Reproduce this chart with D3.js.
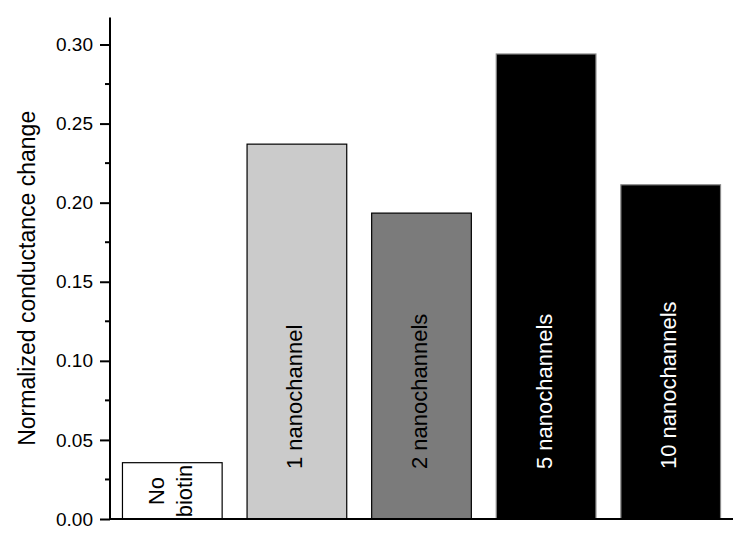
<!DOCTYPE html>
<html>
<head>
<meta charset="utf-8">
<script src="https://cdn.jsdelivr.net/npm/d3@7"></script>
<style>
  body { margin: 0; background: #fff; }
  svg { font-family: "Liberation Sans", Arial, sans-serif; }
</style>
</head>
<body>
<svg width="750" height="537"></svg>
<script>
const svg = d3.select('svg');

// data
const categories = ['No biotin', '1 nanochannel', '2 nanochannels', '5 nanochannels', '10 nanochannels'];
const values = [0.0356, 0.237, 0.1934, 0.294, 0.2113];
const fills = ['#ffffff', '#cbcbcb', '#7b7b7b', '#000000', '#000000'];
const textColors = ['#000', '#000', '#000', '#fff', '#fff'];
const majorTicks = [0, 0.05, 0.10, 0.15, 0.20, 0.25, 0.30];
const minorTicks = [0.025, 0.075, 0.125, 0.175, 0.225, 0.275];

const left = 110, right = 733, bottom = 519;

const xScale = d3.scaleBand()
  .domain(categories)
  .range([left, right])
  .paddingInner(0.2)
  .paddingOuter(0.1);

const yScale = d3.scaleLinear()
  .domain([0, 0.30])
  .range([bottom, 44.5]);

const yTop = yScale(0.317);

// bars
const bars = svg.append('g').attr('class', 'bars');
bars.selectAll('rect').data(values)
  .enter().append('rect')
    .attr('x', (d, i) => xScale(categories[i]))
    .attr('y', d => yScale(d))
    .attr('width', xScale.bandwidth())
    .attr('height', d => bottom - yScale(d))
    .attr('fill', (d, i) => fills[i])
    .attr('stroke', (d, i) => i >= 3 ? '#888' : '#000')
    .attr('stroke-width', 1.2);

// bar labels, rotated
const labels = svg.append('g').attr('class', 'bar-labels')
  .attr('font-size', 22);
categories.forEach((c, i) => {
  const cx = xScale(c) + xScale.bandwidth() / 2;
  if (i === 0) {
    const t = labels.append('text')
      .attr('transform', `translate(${cx},491) rotate(-90)`)
      .attr('text-anchor', 'middle')
      .attr('fill', textColors[i]);
    t.append('tspan').attr('x', 0).attr('dy', '-0.4em').text('No');
    t.append('tspan').attr('x', 0).attr('dy', '1.3em').text('biotin');
  } else {
    labels.append('text')
      .attr('transform', `translate(${cx},469) rotate(-90)`)
      .attr('dy', '0.25em')
      .attr('fill', textColors[i])
      .text(c);
  }
});

// y axis
const yAxis = d3.axisLeft(yScale)
  .tickValues(majorTicks)
  .tickFormat(d3.format('.2f'))
  .tickSize(10)
  .tickPadding(7);

const yAxisG = svg.append('g')
  .attr('class', 'yAxis')
  .attr('transform', `translate(${left},0)`)
  .call(yAxis);
yAxisG.select('.domain').remove();
yAxisG.selectAll('.tick line').attr('stroke-width', 2);
yAxisG.selectAll('.tick text')
  .attr('font-size', 19)
  .attr('font-family', '"Liberation Sans", Arial, sans-serif')
  .attr('fill', '#000');

yAxisG.selectAll('.minor').data(minorTicks)
  .enter().append('line')
    .attr('class', 'minor')
    .attr('x1', -5).attr('x2', 0)
    .attr('y1', d => yScale(d)).attr('y2', d => yScale(d))
    .attr('stroke', '#000')
    .attr('stroke-width', 2);

// axis lines
svg.append('line')
  .attr('x1', left).attr('x2', left)
  .attr('y1', yTop).attr('y2', bottom)
  .attr('stroke', '#000').attr('stroke-width', 2);
svg.append('line')
  .attr('x1', left - 1).attr('x2', right)
  .attr('y1', bottom).attr('y2', bottom)
  .attr('stroke', '#000').attr('stroke-width', 2);

// y axis label
svg.append('text')
  .attr('transform', `translate(35,${(yTop + bottom) / 2 + 10}) rotate(-90)`)
  .attr('text-anchor', 'middle')
  .attr('font-size', 23)
  .attr('fill', '#000')
  .text('Normalized conductance change');
</script>
</body>
</html>
